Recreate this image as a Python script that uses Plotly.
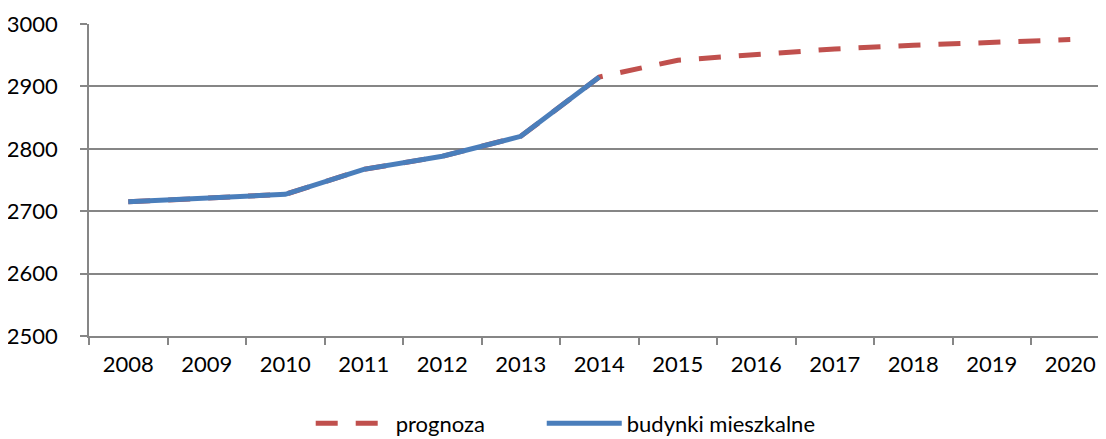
import plotly.graph_objs as go

years = ['2008', '2009', '2010', '2011', '2012', '2013', '2014',
         '2015', '2016', '2017', '2018', '2019', '2020']

# prognoza covers the whole range, budynki mieszkalne only up to 2014
prognoza = [2715, 2722, 2727, 2767, 2788, 2820, 2915,
            2942, 2952, 2960, 2966, 2970, 2975]
budynki = [2715, 2722, 2727, 2767, 2788, 2820, 2915]

font = dict(family='Lato, Open Sans, sans-serif', size=22, color='#000000')

fig = go.Figure()

fig.add_trace(go.Scatter(x=years, y=prognoza, mode='lines', name='prognoza',
                         line=dict(color='#C0504D', width=5, dash='22px,18px'),
                         legend='legend'))

fig.add_trace(go.Scatter(x=years[:len(budynki)], y=budynki, mode='lines',
                         name='budynki mieszkalne',
                         line=dict(color='#4A7EBB', width=5),
                         legend='legend2'))

# the page body adds 8px on the left/top; the figure runs past the window
# on the right like the cropped original
fig.update_layout(width=1106, height=447,
                  paper_bgcolor='white', plot_bgcolor='white',
                  font=font,
                  margin=dict(l=81, r=0, t=16, b=119),
                  legend=dict(orientation='h', x=0.2163, xanchor='left',
                              y=-0.28, yanchor='middle', font=font, itemwidth=75),
                  legend2=dict(orientation='h', x=0.4417, xanchor='left',
                               y=-0.28, yanchor='middle', font=font, itemwidth=75),
                  showlegend=True)

fig.update_xaxes(type='category', range=[-0.5, 12.557], automargin=False,
                 showline=True, linecolor='#868686', linewidth=1.5,
                 ticks='outside', tickson='boundaries', ticklen=7,
                 tickcolor='#868686', tickwidth=1.5,
                 showgrid=False, ticklabelstandoff=8)

fig.update_yaxes(range=[2500, 3000], dtick=100, automargin=False,
                 showline=True, linecolor='#868686', linewidth=1.5,
                 ticks='outside', ticklen=7, tickcolor='#868686', tickwidth=1.5,
                 showgrid=True, gridcolor='#868686', gridwidth=1.5,
                 zeroline=False, ticklabelstandoff=18)

fig.write_html("out.html")
